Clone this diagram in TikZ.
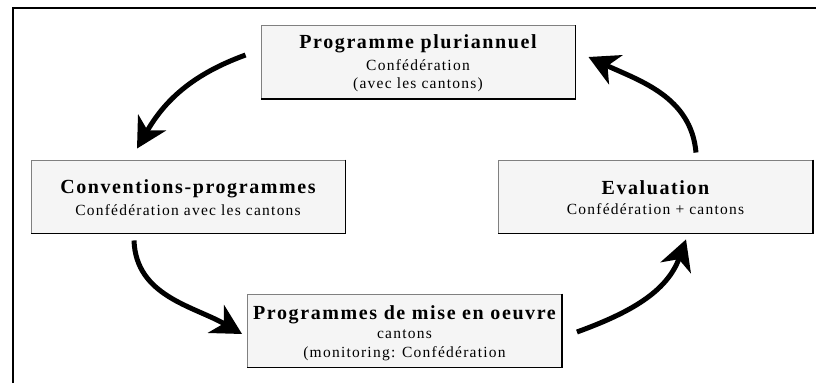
\documentclass[tikz,border=0pt]{standalone}
\usepackage{fontspec}
\setmainfont{Liberation Serif}
\newfontfamily\spacedfont[LetterSpace=8]{Liberation Serif}
\usetikzlibrary{arrows.meta}
\newcommand{\ttlf}{\spacedfont\bfseries\fontsize{20}{22}\selectfont}
\newcommand{\subf}{\spacedfont\fontsize{15.5}{18}\selectfont}
\newcommand{\toppad}[1]{\rule{0pt}{#1}}
\begin{document}
\begin{tikzpicture}[x=1pt,y=-1pt,
  box/.style={draw=black!50, line width=0.9pt, fill=black!4,
    minimum width=314pt, minimum height=73pt, inner sep=0pt,
    align=center, font=\subf},
  shadowedge/.style={draw=black, line width=1.1pt},
  flow/.style={line width=5pt, line cap=butt,
    -{Stealth[length=30pt,width=32pt,inset=9pt]}},
  frameline/.style={line width=2pt}]
\useasboundingbox (0,0) rectangle (816,383);
% outer frame (top and left)
\draw[frameline] (12.5,383) -- (12.5,7.7) -- (816,7.7);
% boxes
\node[box] (b1) at (418,62)
  {{\ttlf\toppad{16.7pt}Programme pluriannuel}\\[4.5pt] Confédération\\ (avec les cantons)};
\node[box] (b2) at (188,196.5)
  {{\ttlf\toppad{16pt}Conventions-programmes}\\[4.4pt] Confédération avec les cantons};
\node[box] (b3) at (404.5,330.5)
  {{\ttlf\toppad{18.7pt}Programmes de mise en oeuvre}\\[1.3pt] cantons\\[1pt] (monitoring: Confédération};
\node[box] (b4) at (655.5,196.5)
  {{\ttlf\toppad{15.5pt}Evaluation}\\[1.7pt] Confédération + cantons};
% darker bottom/right edges
\foreach \b in {b1,b2,b3,b4}
  \draw[shadowedge] (\b.north east) -- (\b.south east) -- (\b.south west);
% cycle arrows
\draw[flow] ([shift={(-15,-7)}]b1.west) to[out=200,in=60] ([shift={(-51,-11)}]b2.north);
\draw[flow] ([shift={(-54,7)}]b2.south) to[out=272,in=150] ([shift={(-5,3.5)}]b3.west);
\draw[flow] ([shift={(15,1.5)}]b3.east) to[out=20,in=250] ([shift={(30.5,6)}]b4.south);
\draw[flow] ([shift={(40.5,-7)}]b4.north) to[out=95,in=335] ([shift={(13,-5)}]b1.east);
\end{tikzpicture}
\end{document}
